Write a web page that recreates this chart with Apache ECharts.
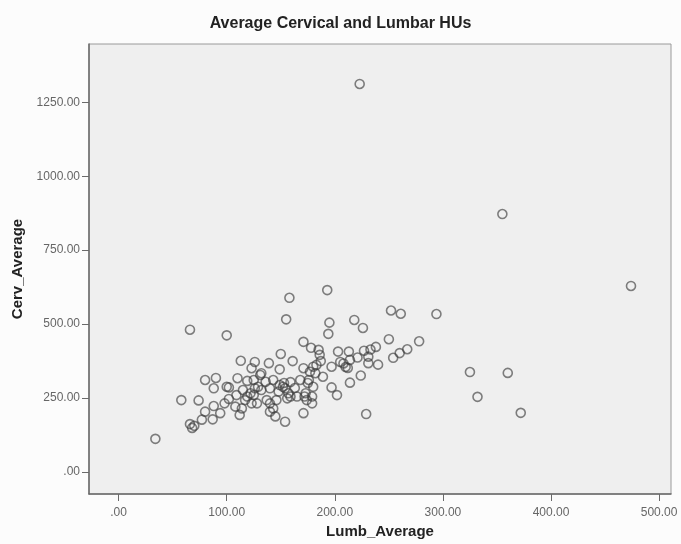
<!DOCTYPE html>
<html>
<head>
<meta charset="utf-8">
<script src="https://cdn.jsdelivr.net/npm/echarts@6/dist/echarts.min.js"></script>
<style>
html,body{margin:0;padding:0;background:#fcfcfc;}
#chart{width:681px;height:544px;}
</style>
</head>
<body>
<div id="chart"></div>
<script>
const titleText = "Average Cervical and Lumbar HUs";
const xName = "Lumb_Average";
const yName = "Cerv_Average";
const xTicks = [0, 100, 200, 300, 400, 500];
const yTicks = [0, 250, 500, 750, 1000, 1250];

const lumb = [
  223,355,474,294,325,332,360,372,229,34,
  66,100,58,74,80,90,88,100,80,88,
  94,77,87,66,68,70,98,108,114,112,
  110,102,119,122,115,129,113,123,126,139,
  131,136,126,140,132,125,143,149,150,161,
  158,155,171,178,152,149,148,157,154,159,
  132,125,128,137,146,156,165,168,176,180,
  173,179,174,179,171,143,145,154,140,119,
  109,123,140,180,171,177,183,189,186,187,
  193,195,194,203,197,197,202,185,182,175,
  172,213,208,210,214,221,227,233,238,231,
  231,240,224,214,218,226,252,261,250,278,
  267,260,254,153,159,163,205,212,117,102
];
const cerv = [
  1312,872,629,534,338,254,335,200,196,112,
  481,462,243,242,311,318,283,288,204,223,
  199,177,178,162,149,156,232,221,215,193,
  317,286,308,266,277,288,376,351,372,368,
  328,305,283,283,334,311,311,347,399,375,
  589,516,440,420,288,294,272,266,283,255,
  277,260,232,243,243,249,255,311,311,288,
  266,255,243,232,199,215,188,170,204,255,
  260,232,232,356,351,339,362,322,396,375,
  615,505,467,407,356,286,260,413,334,301,
  255,407,367,355,379,387,410,414,423,390,
  368,363,326,302,514,487,546,535,449,442,
  415,402,386,301,304,284,372,352,243,247
];

const points = lumb.map((x, i) => [x, cerv[i]]);
const fmt = v => (v === 0 ? '.00' : v.toFixed(2));
const font = "'Liberation Sans', Arial, sans-serif";

const chart = echarts.init(document.getElementById('chart'), null, {renderer: 'canvas'});
chart.setOption({
  backgroundColor: '#fcfcfc',
  animation: false,
  title: {
    text: titleText,
    left: 'center',
    top: 16,
    padding: 0,
    textStyle: {fontFamily: font, fontSize: 16, fontWeight: 'bold', color: '#222'}
  },
  grid: {
    left: 89, right: 10, top: 44, bottom: 50,
    show: true, backgroundColor: '#efefef', borderColor: '#9a9a9a', borderWidth: 1,
    containLabel: false, outerBoundsMode: 'none'
  },
  xAxis: {
    type: 'value',
    min: -27.4, max: 511,
    name: xName,
    nameLocation: 'middle',
    nameGap: 25,
    nameTextStyle: {fontFamily: font, fontSize: 15, fontWeight: 'bold', color: '#222'},
    axisLine: {show: true, onZero: false, lineStyle: {color: '#6a6a6a', width: 1.5}},
    axisTick: {show: true, length: 7, customValues: xTicks, lineStyle: {color: '#6a6a6a'}},
    axisLabel: {customValues: xTicks, formatter: fmt, margin: 13, fontFamily: font, fontSize: 12, color: '#666'},
    splitLine: {show: false}
  },
  yAxis: {
    type: 'value',
    min: -74.4, max: 1447,
    name: yName,
    nameLocation: 'middle',
    nameRotate: 90,
    nameGap: 62,
    nameTextStyle: {fontFamily: font, fontSize: 15, fontWeight: 'bold', color: '#222'},
    axisLine: {show: true, onZero: false, lineStyle: {color: '#6a6a6a', width: 1.5}},
    axisTick: {show: true, length: 7, customValues: yTicks, lineStyle: {color: '#6a6a6a'}},
    axisLabel: {customValues: yTicks, formatter: fmt, margin: 9, fontFamily: font, fontSize: 12, color: '#666'},
    splitLine: {show: false}
  },
  series: [{
    type: 'scatter',
    data: points,
    symbol: 'circle',
    symbolSize: 9,
    itemStyle: {color: 'rgba(0,0,0,0)', borderColor: 'rgba(60,60,60,0.8)', borderWidth: 1.6}
  }]
});
</script>
</body>
</html>
